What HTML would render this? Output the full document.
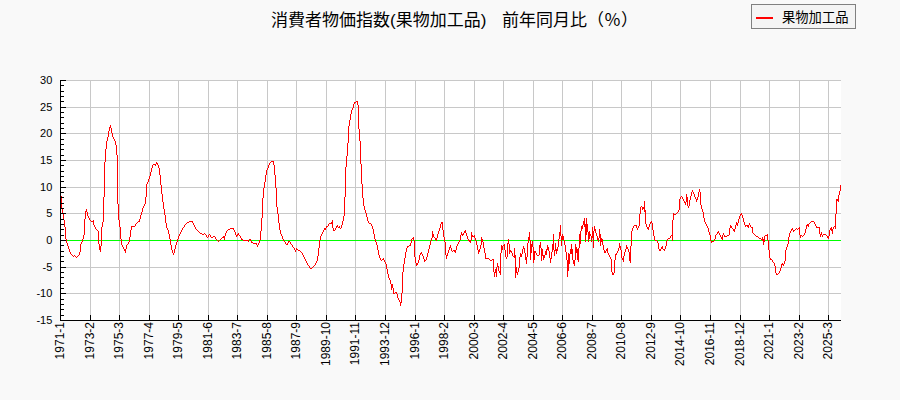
<!DOCTYPE html>
<html><head><meta charset="utf-8"><title>chart</title>
<style>html,body{margin:0;padding:0;background:#f9f9f9;font-family:"Liberation Sans",sans-serif;}svg{display:block}</style>
</head><body>
<svg width="900" height="400" viewBox="0 0 900 400">
<rect x="0" y="0" width="900" height="400" fill="#f9f9f9"/>
<rect x="61" y="80" width="780" height="240" fill="#fff"/>
<g fill="#c8c8c8" shape-rendering="crispEdges"><rect x="90" y="80" width="1" height="240"/><rect x="119" y="80" width="1" height="240"/><rect x="149" y="80" width="1" height="240"/><rect x="178" y="80" width="1" height="240"/><rect x="208" y="80" width="1" height="240"/><rect x="237" y="80" width="1" height="240"/><rect x="267" y="80" width="1" height="240"/><rect x="296" y="80" width="1" height="240"/><rect x="326" y="80" width="1" height="240"/><rect x="355" y="80" width="1" height="240"/><rect x="385" y="80" width="1" height="240"/><rect x="415" y="80" width="1" height="240"/><rect x="444" y="80" width="1" height="240"/><rect x="474" y="80" width="1" height="240"/><rect x="503" y="80" width="1" height="240"/><rect x="533" y="80" width="1" height="240"/><rect x="562" y="80" width="1" height="240"/><rect x="592" y="80" width="1" height="240"/><rect x="621" y="80" width="1" height="240"/><rect x="651" y="80" width="1" height="240"/><rect x="680" y="80" width="1" height="240"/><rect x="710" y="80" width="1" height="240"/><rect x="740" y="80" width="1" height="240"/><rect x="769" y="80" width="1" height="240"/><rect x="799" y="80" width="1" height="240"/><rect x="828" y="80" width="1" height="240"/><rect x="61" y="80" width="780" height="1"/><rect x="61" y="107" width="780" height="1"/><rect x="61" y="133" width="780" height="1"/><rect x="61" y="160" width="780" height="1"/><rect x="61" y="187" width="780" height="1"/><rect x="61" y="213" width="780" height="1"/><rect x="61" y="240" width="780" height="1"/><rect x="61" y="267" width="780" height="1"/><rect x="61" y="293" width="780" height="1"/></g>
<rect x="61" y="240" width="780" height="1" fill="#00ff00" shape-rendering="crispEdges"/>
<path d="M61 196h1v12h-1zM62 208h1v6h-1zM63 214h1v6h-1zM64 220h1v7h-1zM65 227h1v12h-1zM66 239h1v4h-1zM67 243h1v3h-1zM68 246h1v3h-1zM69 249h1v3h-1zM70 252h1v2h-1zM71 254h1v1h-1zM72 255h1v1h-1zM73 256h1v1h-1zM74 255h1v1h-1zM75 256h1v1h-1zM76 257h1v1h-1zM77 256h1v1h-1zM78 255h1v1h-1zM79 252h1v3h-1zM80 244h1v8h-1zM81 242h1v2h-1zM82 239h1v3h-1zM83 235h1v4h-1zM84 219h1v16h-1zM85 211h1v8h-1zM86 209h1v3h-1zM87 212h1v4h-1zM88 216h1v2h-1zM89 218h1v2h-1zM90 220h1v1h-1zM91 221h1v1h-1zM92 221h1v1h-1zM93 220h1v5h-1zM94 225h1v2h-1zM95 227h1v2h-1zM96 229h1v1h-1zM97 230h1v1h-1zM98 231h1v13h-1zM99 244h1v6h-1zM100 246h1v6h-1zM101 227h1v19h-1zM102 222h1v5h-1zM103 197h1v25h-1zM104 162h1v35h-1zM105 149h1v13h-1zM106 141h1v8h-1zM107 137h1v4h-1zM108 131h1v6h-1zM109 127h1v4h-1zM110 125h1v3h-1zM111 128h1v5h-1zM112 133h1v4h-1zM113 137h1v2h-1zM114 139h1v2h-1zM115 141h1v4h-1zM116 145h1v10h-1zM117 155h1v49h-1zM118 204h1v16h-1zM119 220h1v7h-1zM120 227h1v12h-1zM121 239h1v6h-1zM122 245h1v2h-1zM123 247h1v2h-1zM124 249h1v2h-1zM125 249h1v4h-1zM126 245h1v4h-1zM127 244h1v1h-1zM128 242h1v2h-1zM129 237h1v5h-1zM130 230h1v7h-1zM131 226h1v4h-1zM132 226h1v1h-1zM133 226h1v1h-1zM134 226h1v1h-1zM135 224h1v2h-1zM136 223h1v1h-1zM137 222h1v1h-1zM138 221h1v1h-1zM139 219h1v3h-1zM140 215h1v4h-1zM141 212h1v3h-1zM142 208h1v4h-1zM143 206h1v2h-1zM144 204h1v2h-1zM145 197h1v7h-1zM146 184h1v13h-1zM147 182h1v2h-1zM148 179h1v3h-1zM149 176h1v3h-1zM150 172h1v4h-1zM151 168h1v4h-1zM152 165h1v3h-1zM153 164h1v1h-1zM154 164h1v1h-1zM155 164h1v2h-1zM156 162h1v2h-1zM157 163h1v2h-1zM158 165h1v3h-1zM159 168h1v7h-1zM160 175h1v10h-1zM161 185h1v9h-1zM162 194h1v8h-1zM163 202h1v7h-1zM164 209h1v6h-1zM165 215h1v8h-1zM166 223h1v5h-1zM167 228h1v2h-1zM168 230h1v4h-1zM169 234h1v5h-1zM170 239h1v6h-1zM171 245h1v5h-1zM172 250h1v3h-1zM173 253h1v2h-1zM174 249h1v4h-1zM175 245h1v4h-1zM176 242h1v3h-1zM177 239h1v3h-1zM178 236h1v3h-1zM179 234h1v2h-1zM180 232h1v2h-1zM181 230h1v2h-1zM182 228h1v2h-1zM183 227h1v1h-1zM184 225h1v2h-1zM185 224h1v1h-1zM186 223h1v1h-1zM187 222h1v1h-1zM188 222h1v1h-1zM189 221h1v1h-1zM190 221h1v1h-1zM191 221h1v1h-1zM192 221h1v2h-1zM193 223h1v2h-1zM194 225h1v2h-1zM195 227h1v2h-1zM196 229h1v1h-1zM197 230h1v1h-1zM198 231h1v1h-1zM199 232h1v1h-1zM200 233h1v1h-1zM201 233h1v1h-1zM202 234h1v1h-1zM203 234h1v1h-1zM204 233h1v1h-1zM205 234h1v1h-1zM206 235h1v2h-1zM207 237h1v1h-1zM208 235h1v2h-1zM209 234h1v1h-1zM210 235h1v2h-1zM211 237h1v1h-1zM212 237h1v1h-1zM213 236h1v1h-1zM214 236h1v1h-1zM215 237h1v2h-1zM216 239h1v1h-1zM217 240h1v1h-1zM218 241h1v1h-1zM219 240h1v1h-1zM220 239h1v1h-1zM221 238h1v1h-1zM222 237h1v1h-1zM223 236h1v2h-1zM224 236h1v4h-1zM225 233h1v3h-1zM226 231h1v2h-1zM227 230h1v1h-1zM228 229h1v1h-1zM229 229h1v1h-1zM230 228h1v1h-1zM231 228h1v1h-1zM232 228h1v1h-1zM233 228h1v2h-1zM234 230h1v2h-1zM235 232h1v3h-1zM236 235h1v2h-1zM237 234h1v2h-1zM238 233h1v2h-1zM239 235h1v1h-1zM240 236h1v2h-1zM241 238h1v2h-1zM242 239h1v1h-1zM243 240h1v1h-1zM244 240h1v1h-1zM245 240h1v1h-1zM246 240h1v1h-1zM247 240h1v1h-1zM248 240h1v2h-1zM249 239h1v1h-1zM250 239h1v2h-1zM251 241h1v2h-1zM252 242h1v1h-1zM253 243h1v1h-1zM254 243h1v1h-1zM255 243h1v1h-1zM256 243h1v2h-1zM257 245h1v2h-1zM258 243h1v2h-1zM259 240h1v3h-1zM260 231h1v9h-1zM261 218h1v13h-1zM262 198h1v20h-1zM263 188h1v10h-1zM264 182h1v6h-1zM265 175h1v7h-1zM266 170h1v5h-1zM267 168h1v2h-1zM268 165h1v3h-1zM269 163h1v2h-1zM270 162h1v1h-1zM271 161h1v1h-1zM272 161h1v1h-1zM273 161h1v4h-1zM274 165h1v10h-1zM275 175h1v13h-1zM276 188h1v19h-1zM277 207h1v7h-1zM278 214h1v9h-1zM279 223h1v7h-1zM280 230h1v4h-1zM281 234h1v2h-1zM282 236h1v3h-1zM283 239h1v2h-1zM284 241h1v1h-1zM285 242h1v2h-1zM286 244h1v1h-1zM287 243h1v2h-1zM288 241h1v2h-1zM289 241h1v1h-1zM290 242h1v2h-1zM291 244h1v1h-1zM292 245h1v2h-1zM293 247h1v1h-1zM294 248h1v2h-1zM295 250h1v2h-1zM296 248h1v2h-1zM297 249h1v1h-1zM298 250h1v1h-1zM299 250h1v1h-1zM300 251h1v1h-1zM301 252h1v1h-1zM302 253h1v2h-1zM303 255h1v2h-1zM304 257h1v2h-1zM305 259h1v2h-1zM306 261h1v2h-1zM307 263h1v2h-1zM308 265h1v1h-1zM309 266h1v2h-1zM310 268h1v1h-1zM311 268h1v1h-1zM312 267h1v1h-1zM313 266h1v1h-1zM314 265h1v1h-1zM315 263h1v2h-1zM316 261h1v2h-1zM317 256h1v5h-1zM318 248h1v8h-1zM319 240h1v8h-1zM320 236h1v4h-1zM321 234h1v2h-1zM322 232h1v2h-1zM323 230h1v2h-1zM324 228h1v2h-1zM325 228h1v2h-1zM326 226h1v2h-1zM327 226h1v1h-1zM328 224h1v2h-1zM329 223h1v1h-1zM330 223h1v1h-1zM331 222h1v2h-1zM332 220h1v8h-1zM333 228h1v3h-1zM334 230h1v1h-1zM335 228h1v2h-1zM336 226h1v2h-1zM337 225h1v2h-1zM338 227h1v1h-1zM339 226h1v2h-1zM340 228h1v1h-1zM341 225h1v3h-1zM342 221h1v4h-1zM343 216h1v5h-1zM344 197h1v19h-1zM345 167h1v30h-1zM346 156h1v11h-1zM347 143h1v13h-1zM348 126h1v17h-1zM349 120h1v6h-1zM350 114h1v6h-1zM351 110h1v4h-1zM352 108h1v2h-1zM353 104h1v4h-1zM354 102h1v2h-1zM355 102h1v1h-1zM356 101h1v1h-1zM357 101h1v4h-1zM358 105h1v24h-1zM359 129h1v12h-1zM360 141h1v23h-1zM361 164h1v20h-1zM362 184h1v14h-1zM363 198h1v8h-1zM364 206h1v4h-1zM365 210h1v3h-1zM366 213h1v4h-1zM367 217h1v4h-1zM368 221h1v2h-1zM369 223h1v1h-1zM370 223h1v1h-1zM371 224h1v2h-1zM372 226h1v3h-1zM373 229h1v5h-1zM374 234h1v5h-1zM375 239h1v3h-1zM376 242h1v3h-1zM377 245h1v5h-1zM378 250h1v5h-1zM379 255h1v3h-1zM380 258h1v2h-1zM381 260h1v1h-1zM382 259h1v1h-1zM383 258h1v2h-1zM384 260h1v2h-1zM385 262h1v2h-1zM386 264h1v5h-1zM387 269h1v5h-1zM388 274h1v4h-1zM389 278h1v2h-1zM390 280h1v4h-1zM391 284h1v6h-1zM392 284h1v4h-1zM393 288h1v6h-1zM394 293h1v1h-1zM395 292h1v1h-1zM396 292h1v2h-1zM397 294h1v4h-1zM398 298h1v2h-1zM399 300h1v2h-1zM400 302h1v4h-1zM401 293h1v10h-1zM402 272h1v21h-1zM403 264h1v8h-1zM404 258h1v6h-1zM405 252h1v6h-1zM406 248h1v4h-1zM407 246h1v2h-1zM408 246h1v1h-1zM409 245h1v1h-1zM410 243h1v3h-1zM411 239h1v4h-1zM412 238h1v1h-1zM413 237h1v3h-1zM414 240h1v17h-1zM415 257h1v6h-1zM416 263h1v3h-1zM417 263h1v2h-1zM418 260h1v3h-1zM419 255h1v5h-1zM420 253h1v2h-1zM421 252h1v2h-1zM422 254h1v2h-1zM423 256h1v3h-1zM424 259h1v3h-1zM425 260h1v1h-1zM426 257h1v3h-1zM427 253h1v4h-1zM428 249h1v4h-1zM429 245h1v4h-1zM430 241h1v4h-1zM431 238h1v3h-1zM432 231h1v7h-1zM433 234h1v3h-1zM434 237h1v1h-1zM435 238h1v2h-1zM436 238h1v3h-1zM437 234h1v4h-1zM438 231h1v3h-1zM439 228h1v3h-1zM440 224h1v4h-1zM441 222h1v2h-1zM442 222h1v8h-1zM443 230h1v7h-1zM444 237h1v5h-1zM445 242h1v13h-1zM446 255h1v4h-1zM447 253h1v3h-1zM448 250h1v3h-1zM449 247h1v3h-1zM450 245h1v3h-1zM451 248h1v3h-1zM452 251h1v1h-1zM453 250h1v1h-1zM454 250h1v2h-1zM455 250h1v3h-1zM456 246h1v4h-1zM457 244h1v2h-1zM458 242h1v2h-1zM459 240h1v2h-1zM460 235h1v5h-1zM461 232h1v3h-1zM462 234h1v2h-1zM463 233h1v2h-1zM464 231h1v2h-1zM465 230h1v3h-1zM466 233h1v3h-1zM467 236h1v3h-1zM468 239h1v2h-1zM469 240h1v2h-1zM470 240h1v3h-1zM471 232h1v8h-1zM472 235h1v2h-1zM473 236h1v1h-1zM474 235h1v3h-1zM475 238h1v3h-1zM476 241h1v4h-1zM477 245h1v5h-1zM478 250h1v4h-1zM479 249h1v3h-1zM480 245h1v4h-1zM481 237h1v8h-1zM482 239h1v3h-1zM483 242h1v6h-1zM484 248h1v5h-1zM485 253h1v6h-1zM486 258h1v1h-1zM487 258h1v1h-1zM488 258h1v1h-1zM489 259h1v1h-1zM490 260h1v1h-1zM491 260h1v1h-1zM492 259h1v1h-1zM493 259h1v13h-1zM494 272h1v5h-1zM495 269h1v4h-1zM496 267h1v10h-1zM497 263h1v4h-1zM498 266h1v5h-1zM499 271h1v2h-1zM500 253h1v22h-1zM501 245h1v8h-1zM502 246h1v4h-1zM503 245h1v1h-1zM504 244h1v6h-1zM505 250h1v7h-1zM506 257h1v2h-1zM507 243h1v14h-1zM508 239h1v5h-1zM509 244h1v10h-1zM510 250h1v2h-1zM511 251h1v2h-1zM512 253h1v3h-1zM513 256h1v1h-1zM514 248h1v10h-1zM515 255h1v23h-1zM516 267h1v6h-1zM517 272h1v3h-1zM518 268h1v4h-1zM519 257h1v11h-1zM520 253h1v4h-1zM521 254h1v3h-1zM522 249h1v5h-1zM523 246h1v3h-1zM524 248h1v5h-1zM525 253h1v7h-1zM526 257h1v7h-1zM527 243h1v14h-1zM528 237h1v6h-1zM529 232h1v8h-1zM530 240h1v20h-1zM531 244h1v9h-1zM532 241h1v6h-1zM533 247h1v16h-1zM534 251h1v9h-1zM535 251h1v2h-1zM536 253h1v2h-1zM537 255h1v1h-1zM538 255h1v1h-1zM539 245h1v10h-1zM540 242h1v6h-1zM541 248h1v13h-1zM542 249h1v7h-1zM543 255h1v5h-1zM544 255h1v3h-1zM545 251h1v4h-1zM546 249h1v6h-1zM547 245h1v5h-1zM548 247h1v4h-1zM549 251h1v7h-1zM550 258h1v5h-1zM551 252h1v7h-1zM552 244h1v8h-1zM553 234h1v16h-1zM554 250h1v6h-1zM555 243h1v8h-1zM556 249h1v5h-1zM557 247h1v4h-1zM558 239h1v8h-1zM559 232h1v7h-1zM560 225h1v11h-1zM561 236h1v10h-1zM562 234h1v6h-1zM563 236h1v4h-1zM564 240h1v5h-1zM565 245h1v7h-1zM566 252h1v8h-1zM567 260h1v17h-1zM568 253h1v18h-1zM569 254h1v10h-1zM570 249h1v5h-1zM571 244h1v10h-1zM572 249h1v11h-1zM573 260h1v4h-1zM574 260h1v6h-1zM575 244h1v16h-1zM576 247h1v6h-1zM577 249h1v11h-1zM578 248h1v14h-1zM579 234h1v14h-1zM580 231h1v13h-1zM581 226h1v5h-1zM582 225h1v4h-1zM583 221h1v4h-1zM584 218h1v9h-1zM585 224h1v18h-1zM586 218h1v17h-1zM587 224h1v8h-1zM588 232h1v10h-1zM589 231h1v8h-1zM590 234h1v2h-1zM591 236h1v6h-1zM592 227h1v11h-1zM593 231h1v17h-1zM594 226h1v5h-1zM595 229h1v4h-1zM596 233h1v3h-1zM597 236h1v4h-1zM598 238h1v4h-1zM599 229h1v9h-1zM600 234h1v12h-1zM601 238h1v4h-1zM602 239h1v6h-1zM603 245h1v5h-1zM604 250h1v3h-1zM605 251h1v2h-1zM606 249h1v2h-1zM607 248h1v5h-1zM608 253h1v2h-1zM609 255h1v2h-1zM610 257h1v2h-1zM611 259h1v13h-1zM612 272h1v3h-1zM613 273h1v2h-1zM614 260h1v13h-1zM615 254h1v6h-1zM616 253h1v2h-1zM617 251h1v2h-1zM618 248h1v3h-1zM619 243h1v5h-1zM620 246h1v4h-1zM621 250h1v8h-1zM622 258h1v2h-1zM623 256h1v6h-1zM624 252h1v4h-1zM625 249h1v3h-1zM626 245h1v4h-1zM627 247h1v2h-1zM628 249h1v3h-1zM629 252h1v9h-1zM630 246h1v17h-1zM631 231h1v15h-1zM632 228h1v3h-1zM633 226h1v2h-1zM634 225h1v1h-1zM635 225h1v1h-1zM636 225h1v3h-1zM637 228h1v2h-1zM638 226h1v2h-1zM639 214h1v12h-1zM640 207h1v7h-1zM641 206h1v1h-1zM642 207h1v3h-1zM643 207h1v2h-1zM644 201h1v11h-1zM645 210h1v14h-1zM646 224h1v3h-1zM647 227h1v2h-1zM648 227h1v3h-1zM649 224h1v3h-1zM650 222h1v2h-1zM651 221h1v2h-1zM652 223h1v7h-1zM653 230h1v6h-1zM654 236h1v4h-1zM655 240h1v1h-1zM656 240h1v1h-1zM657 241h1v2h-1zM658 243h1v6h-1zM659 249h1v2h-1zM660 249h1v2h-1zM661 247h1v2h-1zM662 246h1v3h-1zM663 249h1v1h-1zM664 249h1v2h-1zM665 246h1v3h-1zM666 241h1v5h-1zM667 239h1v2h-1zM668 238h1v1h-1zM669 238h1v1h-1zM670 236h1v2h-1zM671 235h1v1h-1zM672 220h1v21h-1zM673 213h1v7h-1zM674 214h1v1h-1zM675 214h1v1h-1zM676 213h1v1h-1zM677 212h1v1h-1zM678 210h1v2h-1zM679 199h1v11h-1zM680 197h1v2h-1zM681 196h1v1h-1zM682 197h1v2h-1zM683 199h1v2h-1zM684 201h1v2h-1zM685 202h1v3h-1zM686 194h1v8h-1zM687 197h1v9h-1zM688 206h1v2h-1zM689 200h1v6h-1zM690 196h1v4h-1zM691 192h1v4h-1zM692 190h1v2h-1zM693 192h1v2h-1zM694 194h1v3h-1zM695 197h1v2h-1zM696 199h1v3h-1zM697 197h1v3h-1zM698 192h1v5h-1zM699 189h1v3h-1zM700 192h1v13h-1zM701 205h1v4h-1zM702 209h1v3h-1zM703 212h1v6h-1zM704 218h1v4h-1zM705 222h1v2h-1zM706 224h1v2h-1zM707 226h1v2h-1zM708 228h1v4h-1zM709 232h1v3h-1zM710 235h1v6h-1zM711 241h1v2h-1zM712 241h1v1h-1zM713 241h1v1h-1zM714 239h1v2h-1zM715 235h1v4h-1zM716 234h1v1h-1zM717 232h1v2h-1zM718 231h1v2h-1zM719 233h1v2h-1zM720 235h1v2h-1zM721 237h1v2h-1zM722 235h1v5h-1zM723 233h1v2h-1zM724 235h1v2h-1zM725 236h1v1h-1zM726 236h1v1h-1zM727 235h1v1h-1zM728 235h1v1h-1zM729 228h1v7h-1zM730 225h1v3h-1zM731 226h1v2h-1zM732 228h1v1h-1zM733 229h1v2h-1zM734 229h1v3h-1zM735 225h1v4h-1zM736 222h1v3h-1zM737 223h1v3h-1zM738 219h1v4h-1zM739 216h1v3h-1zM740 214h1v2h-1zM741 213h1v2h-1zM742 215h1v3h-1zM743 218h1v4h-1zM744 222h1v3h-1zM745 225h1v2h-1zM746 225h1v1h-1zM747 225h1v2h-1zM748 225h1v3h-1zM749 223h1v2h-1zM750 225h1v2h-1zM751 227h1v1h-1zM752 227h1v6h-1zM753 233h1v1h-1zM754 234h1v1h-1zM755 235h1v1h-1zM756 236h1v1h-1zM757 236h1v1h-1zM758 237h1v1h-1zM759 238h1v1h-1zM760 238h1v1h-1zM761 239h1v1h-1zM762 237h1v4h-1zM763 239h1v6h-1zM764 236h1v6h-1zM765 235h1v1h-1zM766 235h1v1h-1zM767 234h1v6h-1zM768 240h1v10h-1zM769 250h1v8h-1zM770 258h1v2h-1zM771 259h1v1h-1zM772 260h1v2h-1zM773 262h1v1h-1zM774 263h1v3h-1zM775 266h1v7h-1zM776 273h1v2h-1zM777 274h1v1h-1zM778 273h1v1h-1zM779 271h1v2h-1zM780 268h1v3h-1zM781 264h1v4h-1zM782 263h1v2h-1zM783 264h1v2h-1zM784 261h1v3h-1zM785 250h1v11h-1zM786 247h1v3h-1zM787 244h1v3h-1zM788 237h1v7h-1zM789 233h1v4h-1zM790 231h1v2h-1zM791 229h1v2h-1zM792 228h1v2h-1zM793 230h1v2h-1zM794 230h1v1h-1zM795 229h1v1h-1zM796 228h1v1h-1zM797 229h1v1h-1zM798 228h1v1h-1zM799 227h1v8h-1zM800 235h1v3h-1zM801 235h1v1h-1zM802 236h1v1h-1zM803 235h1v1h-1zM804 233h1v2h-1zM805 229h1v4h-1zM806 225h1v4h-1zM807 224h1v2h-1zM808 224h1v3h-1zM809 223h1v1h-1zM810 222h1v1h-1zM811 221h1v1h-1zM812 221h1v1h-1zM813 221h1v1h-1zM814 222h1v2h-1zM815 224h1v2h-1zM816 226h1v2h-1zM817 227h1v1h-1zM818 227h1v1h-1zM819 227h1v7h-1zM820 234h1v3h-1zM821 232h1v3h-1zM822 235h1v2h-1zM823 234h1v1h-1zM824 234h1v1h-1zM825 234h1v1h-1zM826 235h1v1h-1zM827 236h1v2h-1zM828 236h1v3h-1zM829 230h1v6h-1zM830 228h1v2h-1zM831 227h1v4h-1zM832 229h1v5h-1zM833 227h1v2h-1zM834 226h1v1h-1zM835 214h1v15h-1zM836 199h1v15h-1zM837 199h1v2h-1zM838 195h1v7h-1zM839 191h1v4h-1zM840 185h1v6h-1z" fill="#ff0000" shape-rendering="crispEdges"/>
<g fill="#000" shape-rendering="crispEdges"><rect x="60" y="80" width="1" height="241"/><rect x="60" y="320" width="781" height="1"/><rect x="60" y="315" width="1" height="5"/><rect x="90" y="315" width="1" height="5"/><rect x="119" y="315" width="1" height="5"/><rect x="149" y="315" width="1" height="5"/><rect x="178" y="315" width="1" height="5"/><rect x="208" y="315" width="1" height="5"/><rect x="237" y="315" width="1" height="5"/><rect x="267" y="315" width="1" height="5"/><rect x="296" y="315" width="1" height="5"/><rect x="326" y="315" width="1" height="5"/><rect x="355" y="315" width="1" height="5"/><rect x="385" y="315" width="1" height="5"/><rect x="415" y="315" width="1" height="5"/><rect x="444" y="315" width="1" height="5"/><rect x="474" y="315" width="1" height="5"/><rect x="503" y="315" width="1" height="5"/><rect x="533" y="315" width="1" height="5"/><rect x="562" y="315" width="1" height="5"/><rect x="592" y="315" width="1" height="5"/><rect x="621" y="315" width="1" height="5"/><rect x="651" y="315" width="1" height="5"/><rect x="680" y="315" width="1" height="5"/><rect x="710" y="315" width="1" height="5"/><rect x="740" y="315" width="1" height="5"/><rect x="769" y="315" width="1" height="5"/><rect x="799" y="315" width="1" height="5"/><rect x="828" y="315" width="1" height="5"/><rect x="61" y="320" width="5" height="1"/><rect x="61" y="315" width="3" height="1"/><rect x="61" y="309" width="3" height="1"/><rect x="61" y="304" width="3" height="1"/><rect x="61" y="299" width="3" height="1"/><rect x="61" y="293" width="5" height="1"/><rect x="61" y="288" width="3" height="1"/><rect x="61" y="283" width="3" height="1"/><rect x="61" y="277" width="3" height="1"/><rect x="61" y="272" width="3" height="1"/><rect x="61" y="267" width="5" height="1"/><rect x="61" y="261" width="3" height="1"/><rect x="61" y="256" width="3" height="1"/><rect x="61" y="251" width="3" height="1"/><rect x="61" y="245" width="3" height="1"/><rect x="61" y="240" width="5" height="1"/><rect x="61" y="235" width="3" height="1"/><rect x="61" y="229" width="3" height="1"/><rect x="61" y="224" width="3" height="1"/><rect x="61" y="219" width="3" height="1"/><rect x="61" y="213" width="5" height="1"/><rect x="61" y="208" width="3" height="1"/><rect x="61" y="203" width="3" height="1"/><rect x="61" y="197" width="3" height="1"/><rect x="61" y="192" width="3" height="1"/><rect x="61" y="187" width="5" height="1"/><rect x="61" y="181" width="3" height="1"/><rect x="61" y="176" width="3" height="1"/><rect x="61" y="171" width="3" height="1"/><rect x="61" y="165" width="3" height="1"/><rect x="61" y="160" width="5" height="1"/><rect x="61" y="155" width="3" height="1"/><rect x="61" y="149" width="3" height="1"/><rect x="61" y="144" width="3" height="1"/><rect x="61" y="139" width="3" height="1"/><rect x="61" y="133" width="5" height="1"/><rect x="61" y="128" width="3" height="1"/><rect x="61" y="123" width="3" height="1"/><rect x="61" y="117" width="3" height="1"/><rect x="61" y="112" width="3" height="1"/><rect x="61" y="107" width="5" height="1"/><rect x="61" y="101" width="3" height="1"/><rect x="61" y="96" width="3" height="1"/><rect x="61" y="91" width="3" height="1"/><rect x="61" y="85" width="3" height="1"/><rect x="61" y="80" width="5" height="1"/></g>
<rect x="751.5" y="4.5" width="104" height="24" fill="#f4f4f4" stroke="#808080" stroke-width="1" shape-rendering="crispEdges"/>
<rect x="756" y="17" width="17" height="2" fill="#ff0000" shape-rendering="crispEdges"/>
<g fill="#000" font-family='"Liberation Sans", "Noto Sans CJK JP", sans-serif'>
<text y="25.5" font-size="17"><tspan x="271">消費者物価指数(果物加工品)</tspan> <tspan x="502">前年同月比（％）</tspan></text>
<text x="782" y="22.3" font-size="13.3">果物加工品</text>
</g>
<g fill="#000" font-family='"Liberation Sans", sans-serif' font-size="11" text-anchor="end">
<text x="52.3" y="323.9">-15</text>
<text x="52.3" y="297.23">-10</text>
<text x="52.3" y="270.57">-5</text>
<text x="52.3" y="243.9">0</text>
<text x="52.3" y="217.23">5</text>
<text x="52.3" y="190.57">10</text>
<text x="52.3" y="163.9">15</text>
<text x="52.3" y="137.23">20</text>
<text x="52.3" y="110.57">25</text>
<text x="52.3" y="83.9">30</text>
</g>
<g fill="#000" font-family='"Liberation Sans", sans-serif' font-size="12" text-anchor="end">
<text transform="translate(64.4,322) rotate(-90)">1971-1</text>
<text transform="translate(94.4,322) rotate(-90)">1973-2</text>
<text transform="translate(123.4,322) rotate(-90)">1975-3</text>
<text transform="translate(153.4,322) rotate(-90)">1977-4</text>
<text transform="translate(182.4,322) rotate(-90)">1979-5</text>
<text transform="translate(212.4,322) rotate(-90)">1981-6</text>
<text transform="translate(241.4,322) rotate(-90)">1983-7</text>
<text transform="translate(271.4,322) rotate(-90)">1985-8</text>
<text transform="translate(300.4,322) rotate(-90)">1987-9</text>
<text transform="translate(330.4,322) rotate(-90)">1989-10</text>
<text transform="translate(359.4,322) rotate(-90)">1991-11</text>
<text transform="translate(389.4,322) rotate(-90)">1993-12</text>
<text transform="translate(419.4,322) rotate(-90)">1996-1</text>
<text transform="translate(448.4,322) rotate(-90)">1998-2</text>
<text transform="translate(478.4,322) rotate(-90)">2000-3</text>
<text transform="translate(507.4,322) rotate(-90)">2002-4</text>
<text transform="translate(537.4,322) rotate(-90)">2004-5</text>
<text transform="translate(566.4,322) rotate(-90)">2006-6</text>
<text transform="translate(596.4,322) rotate(-90)">2008-7</text>
<text transform="translate(625.4,322) rotate(-90)">2010-8</text>
<text transform="translate(655.4,322) rotate(-90)">2012-9</text>
<text transform="translate(684.4,322) rotate(-90)">2014-10</text>
<text transform="translate(714.4,322) rotate(-90)">2016-11</text>
<text transform="translate(744.4,322) rotate(-90)">2018-12</text>
<text transform="translate(773.4,322) rotate(-90)">2021-1</text>
<text transform="translate(803.4,322) rotate(-90)">2023-2</text>
<text transform="translate(832.4,322) rotate(-90)">2025-3</text>
</g>
</svg>
</body></html>
